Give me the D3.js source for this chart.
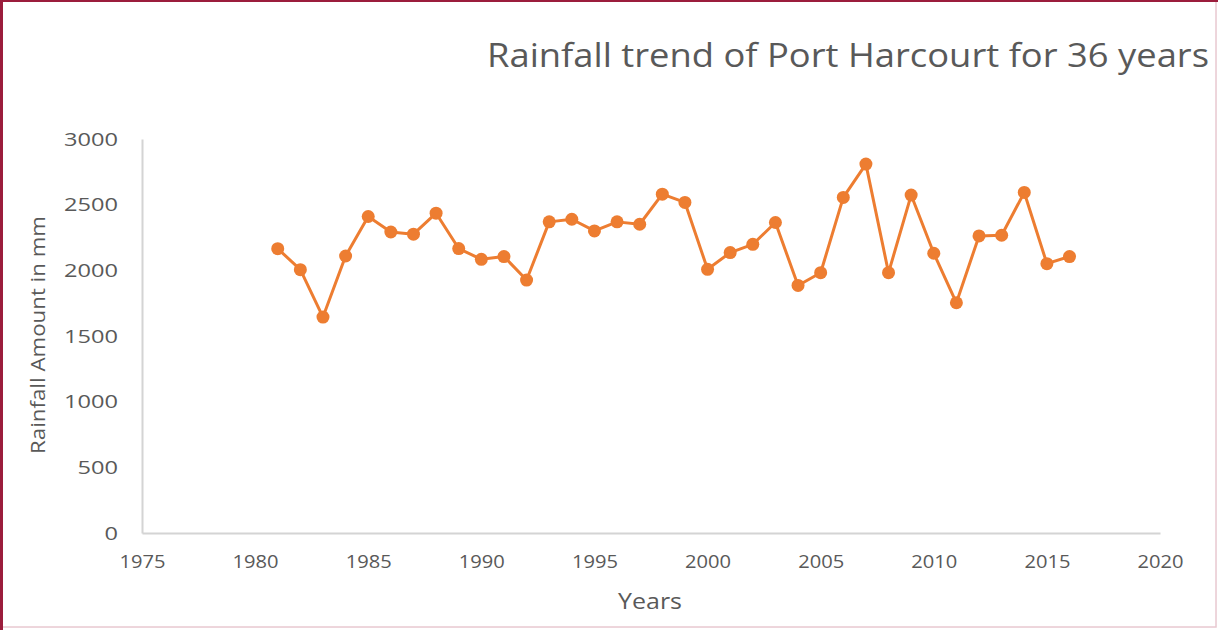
<!DOCTYPE html>
<html>
<head>
<meta charset="utf-8">
<script src="https://cdn.jsdelivr.net/npm/d3@7"></script>
<style>
  body { margin: 0; background: #fff; }
  svg text { font-family: "Open Sans", Lato, sans-serif; fill: #595959; }
</style>
</head>
<body>
<div id="chart"></div>
<script>
var years = [1981, 1982, 1983, 1984, 1985, 1986, 1987, 1988, 1989, 1990,
  1991, 1992, 1993, 1994, 1995, 1996, 1997, 1998, 1999, 2000,
  2001, 2002, 2003, 2004, 2005, 2006, 2007, 2008, 2009, 2010,
  2011, 2012, 2013, 2014, 2015, 2016]
var rainfall = [2165, 2005, 1644, 2109, 2410, 2292, 2275, 2435, 2166, 2084,
  2105, 1926, 2369, 2389, 2300, 2369, 2351, 2580, 2517, 2008,
  2135, 2198, 2364, 1885, 1982, 2555, 2809, 1982, 2573, 2130,
  1753, 2262, 2267, 2593, 2051, 2105]
var xTicks = [1975, 1980, 1985, 1990, 1995, 2000, 2005, 2010, 2015, 2020]
var yTicks = [0, 500, 1000, 1500, 2000, 2500, 3000]

var data = years.map(function(y, i) { return {year: y, value: rainfall[i]} })

var width = 1218
var height = 630

var svg = d3.select("#chart")
  .append("svg")
  .attr("width", width)
  .attr("height", height)

// outer frame
svg.append("rect")
  .attr("x", 1).attr("y", 1)
  .attr("width", width - 3).attr("height", height - 4)
  .attr("fill", "none")
  .attr("stroke", "#e8c8d0")
  .attr("stroke-width", 1.5)
svg.append("line")
  .attr("x1", 1.5).attr("x2", 1.5).attr("y1", 0).attr("y2", height)
  .attr("stroke", "#9b1d3c").attr("stroke-width", 3)
svg.append("line")
  .attr("x1", 0).attr("x2", width).attr("y1", 1).attr("y2", 1)
  .attr("stroke", "#9b1d3c").attr("stroke-width", 2)

var x = d3.scaleLinear().domain([1975, 2020]).range([142, 1160])
var y = d3.scaleLinear().domain([0, 3000]).range([533, 139])

// axes
var gx = svg.append("g")
  .attr("transform", "translate(0,533)")
  .call(d3.axisBottom(x).tickValues(xTicks).tickFormat(d3.format("d")).tickSize(0).tickPadding(22))
gx.select(".domain").attr("stroke", "#d4d4d4").attr("stroke-width", 2)
gx.selectAll("text").style("font-size", "19px").attr("fill", "#595959")
  .attr("textLength", 46).attr("lengthAdjust", "spacingAndGlyphs")

var gy = svg.append("g")
  .attr("transform", "translate(142,0)")
  .call(d3.axisLeft(y).tickValues(yTicks).tickFormat(d3.format("d")).tickSize(0).tickPadding(24))
gy.select(".domain").attr("stroke", "#d4d4d4").attr("stroke-width", 2)
gy.selectAll("text").style("font-size", "19px").attr("fill", "#595959")
  .attr("textLength", function(d) { return String(d).length * 13.5 })
  .attr("lengthAdjust", "spacingAndGlyphs")

// titles
svg.append("text")
  .attr("x", 848).attr("y", 67)
  .attr("text-anchor", "middle")
  .attr("textLength", 722)
  .attr("lengthAdjust", "spacingAndGlyphs")
  .style("font-size", "32px")
  .text("Rainfall trend of Port Harcourt for 36 years")

svg.append("text")
  .attr("x", 650).attr("y", 609)
  .attr("text-anchor", "middle")
  .attr("textLength", 64)
  .attr("lengthAdjust", "spacingAndGlyphs")
  .style("font-size", "21px")
  .text("Years")

svg.append("text")
  .attr("transform", "translate(45,335) rotate(-90)")
  .attr("text-anchor", "middle")
  .attr("textLength", 238)
  .attr("lengthAdjust", "spacingAndGlyphs")
  .style("font-size", "20px")
  .text("Rainfall Amount in mm")

// series
var line = d3.line()
  .x(function(d) { return x(d.year) })
  .y(function(d) { return y(d.value) })

svg.append("path")
  .datum(data)
  .attr("fill", "none")
  .attr("stroke", "#ed7d31")
  .attr("stroke-width", 3)
  .attr("stroke-linejoin", "round")
  .attr("d", line)

svg.append("g")
  .selectAll("circle")
  .data(data)
  .enter().append("circle")
    .attr("cx", function(d) { return x(d.year) })
    .attr("cy", function(d) { return y(d.value) })
    .attr("r", 6.5)
    .attr("fill", "#ed7d31")
</script>
</body>
</html>
